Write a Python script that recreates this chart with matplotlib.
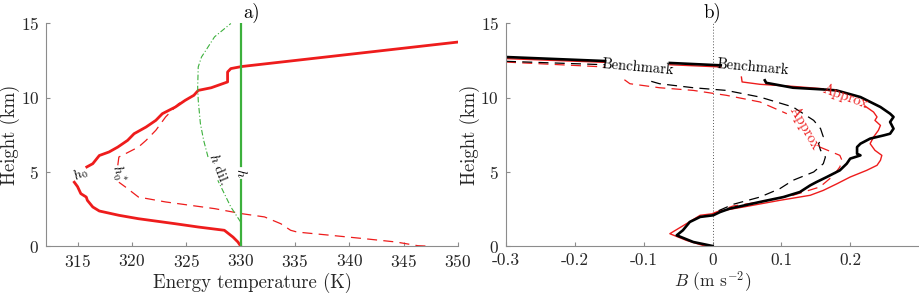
import numpy as np
import matplotlib
matplotlib.use('Agg')
import matplotlib.pyplot as plt

plt.rcParams['font.family'] = ['cmr10', 'DejaVu Serif']
plt.rcParams['mathtext.fontset'] = 'cm'
plt.rcParams['axes.unicode_minus'] = False
plt.rcParams['axes.formatter.use_mathtext'] = True

nan = np.nan

# ---- panel a: energy temperatures (K) vs height (km) ----
h0_T = [330.0, 329.75, 329.3, 328.5, 326.1, 324.0, 320.6, 318.8, 317.0, 316.4, 315.9, 315.8, 315.3, 315.0, 314.7,
        nan, 315.85, 316.4, 317.0, 317.9, 318.7, 319.6, 320.2, 321.3, 322.2, 322.8, 324.0, 324.9, 325.7, 326.1,
        327.3, 328.8, 328.8, 329.1, 330.1, 350.0]
h0_z = [0.0, 0.27, 0.6, 1.06, 1.28, 1.5, 1.84, 2.07, 2.36, 2.63, 3.08, 3.3, 3.53, 4.0, 4.3,
        nan, 5.33, 5.55, 6.1, 6.34, 6.67, 7.12, 7.57, 8.02, 8.47, 8.92, 9.37, 9.82, 10.16, 10.49,
        10.67, 11.06, 11.73, 11.96, 12.1, 13.75]

h0s_T = [347.0, 346.3, 344.3, 341.3, 338.3, 335.2, 334.6, 333.7, 332.2, 330.1, 327.6, 323.1, 320.6, 320.0, 319.4, 318.8,
         nan, 318.7, 318.8, 319.4, 320.6, 321.3, 322.2, 323.1, 323.7, 324.3, 324.9]
h0s_z = [0.0, 0.02, 0.27, 0.5, 0.72, 0.94, 1.06, 1.5, 1.96, 2.18, 2.52, 2.97, 3.3, 3.64, 3.98, 4.3,
         nan, 5.44, 6.0, 6.22, 6.67, 7.12, 7.8, 8.7, 9.15, 9.6, 9.82]

h_T = [330.0, 330.0, nan, 330.0, 330.0]
h_z = [0.0, 4.45, nan, 5.4, 15.0]

hdil_T = [330.0, 329.1, 328.5, 327.9, nan, 327.0, 326.6, 326.3, 326.1, 326.05, 326.1, 326.4, 326.9, 327.6, 329.1]
hdil_z = [1.62, 2.63, 3.53, 4.43, nan, 6.0, 7.12, 8.25, 9.82, 10.72, 12.07, 12.74, 13.3, 14.1, 15.0]

# ---- panel b: buoyancy (m s-2) vs height (km) ----
bench_B = [-0.30, -0.156, nan, -0.062, 0.012, nan,
           0.076, 0.078, 0.117, 0.166, 0.18, 0.215, 0.244, 0.258, 0.263, 0.258, 0.263, 0.258, 0.249, 0.229,
           0.215, 0.21, 0.21, 0.215, 0.20, 0.195, 0.185, 0.166, 0.151, 0.142, 0.127, 0.103, 0.069, 0.025,
           0.011, 0.001, -0.018, -0.033, -0.043, -0.052, -0.028, 0.0]
bench_z = [12.74, 12.47, nan, 12.34, 12.18, nan,
           11.17, 11.0, 10.67, 10.54, 10.49, 10.04, 9.37, 8.92, 8.7, 8.36, 7.91, 7.57, 7.46, 7.24,
           6.9, 6.67, 6.22, 6.11, 5.89, 5.55, 5.1, 4.65, 4.31, 4.09, 3.64, 3.3, 2.97, 2.52,
           2.29, 2.07, 1.96, 1.62, 1.06, 0.72, 0.27, 0.0]

approx_B = [-0.30, -0.156, nan, -0.062, 0.012, nan,
            0.042, 0.043, 0.069, 0.117, 0.161, nan, 0.222, 0.234, 0.239, 0.236, 0.244, 0.241, 0.234, 0.229,
            0.236, 0.246, 0.244, 0.239, 0.224, 0.20, 0.181, 0.161, 0.142, 0.098, 0.045, 0.016, 0.001,
            -0.018, -0.038, -0.062, -0.038, -0.014, 0.0]
approx_z = [12.63, 12.38, nan, 12.22, 12.07, nan,
            11.39, 11.06, 10.9, 10.76, 10.6, nan, 9.42, 9.03, 8.7, 8.47, 8.13, 7.8, 7.35, 6.9,
            6.45, 6.11, 5.78, 5.44, 5.1, 4.65, 4.2, 3.75, 3.42, 3.08, 2.63, 2.4, 2.18,
            2.07, 1.5, 0.83, 0.38, 0.04, 0.0]

bench_dil_B = [-0.30, -0.156, nan,
               -0.089, -0.077, -0.028, 0.02, 0.069, 0.117, 0.132, 0.147, 0.157, 0.161, 0.154, 0.157, 0.164,
               0.161, 0.147, 0.117, 0.098, 0.069, 0.03, 0.0]
bench_dil_z = [12.45, 12.22, nan,
               11.1, 10.94, 10.67, 10.49, 10.04, 9.37, 8.92, 8.47, 7.91, 7.35, 6.9, 6.45, 6.0,
               5.55, 4.99, 4.43, 3.87, 3.3, 2.81, 2.2]

approx_dil_B = [-0.30, -0.156, nan,
                -0.128, -0.12, -0.077, -0.028, 0.02, 0.069, 0.108, nan, 0.156, 0.185, 0.188, 0.185, 0.176,
                0.156, 0.117, 0.069, 0.03, 0.0]
approx_dil_z = [12.4, 12.07, nan,
                11.21, 10.94, 10.67, 10.49, 10.16, 9.71, 8.92, nan, 6.67, 6.11, 5.78, 5.33, 4.76,
                3.98, 3.42, 2.97, 2.7, 2.2]

red = '#ee1c1c'
green = '#3cb03c'
axcol = '#8c8c8c'
txtcol = '#262626'

fig = plt.figure(figsize=(9.19, 2.93), dpi=100)
ax1 = fig.add_axes([0.0501, 0.1604, 0.4483, 0.7594])
ax2 = fig.add_axes([0.5506, 0.1604, 0.4494, 0.7594])

for ax in (ax1, ax2):
    for s in ('top', 'right'):
        ax.spines[s].set_visible(False)
    for s in ('left', 'bottom'):
        ax.spines[s].set_color(axcol)
        ax.spines[s].set_linewidth(0.8)
    ax.tick_params(direction='in', length=3, color=axcol, labelsize=12.5, labelcolor=txtcol, pad=5)
    ax.set_ylim(0, 15)
    ax.set_yticks([0, 5, 10, 15])
    ax.set_ylabel('Height (km)', fontsize=13.5, color=txtcol, va='center')
    ax.yaxis.set_label_coords(-0.088, 0.5)

# panel a
ax1.plot(h0_T, h0_z, color=red, lw=2)
ax1.plot(h0s_T, h0s_z, color=red, lw=0.9, dashes=(8, 5))
ax1.plot(h_T, h_z, color=green, lw=1.6)
ax1.plot(hdil_T, hdil_z, color=green, lw=0.8, dashes=(5, 2, 1, 2))
ax1.text(315.3, 4.85, '$h_0$', fontsize=10, rotation=28, ha='center', va='center')
ax1.text(318.7, 4.9, '$h_0^*$', fontsize=10, rotation=-72, ha='center', va='center')
ax1.text(327.95, 5.2, '$h$ dil.', fontsize=10, rotation=-68, ha='center', va='center')
ax1.text(330.0, 4.92, '$h$', fontsize=10, rotation=-90, ha='center', va='center')
ax1.set_xlim(312.1, 350)
ax1.set_xticks([315, 320, 325, 330, 335, 340, 345, 350])
ax1.set_xlabel('Energy temperature (K)', fontsize=13.5, color=txtcol, va='center')
ax1.xaxis.set_label_coords(0.5, -0.165)
ax1.set_title('a)', fontsize=13.5, pad=1)

# panel b
ax2.axvline(0, color='#555555', lw=0.7, ls=(0, (1, 2)))
ax2.plot(approx_dil_B, approx_dil_z, color=red, lw=0.9, dashes=(8, 5))
ax2.plot(bench_dil_B, bench_dil_z, color='black', lw=0.9, dashes=(8, 5))
ax2.plot(approx_B, approx_z, color=red, lw=1.0)
ax2.plot(bench_B, bench_z, color='black', lw=1.9)
ax2.text(-0.108, 12.05, 'Benchmark', fontsize=10.5, rotation=-5, ha='center', va='center')
ax2.text(0.058, 12.08, 'Benchmark', fontsize=10.5, rotation=-5, ha='center', va='center')
ax2.text(0.193, 10.05, 'Approx', fontsize=10.5, color=red, rotation=-20, ha='center', va='center')
ax2.text(0.134, 7.95, 'Approx', fontsize=10.5, color=red, rotation=-60, ha='center', va='center')
ax2.set_xlim(-0.3, 0.3)
ax2.set_xticks([-0.3, -0.2, -0.1, 0, 0.1, 0.2])
ax2.set_xticklabels(['-0.3', '-0.2', '-0.1', '0', '0.1', '0.2'])
ax2.set_xlabel('$B$ (m s$^{-2}$)', fontsize=12.5, color=txtcol, va='center')
ax2.xaxis.set_label_coords(0.5, -0.158)
ax2.set_title('b)', fontsize=13.5, pad=1)

fig.savefig('out.png', dpi=100)
